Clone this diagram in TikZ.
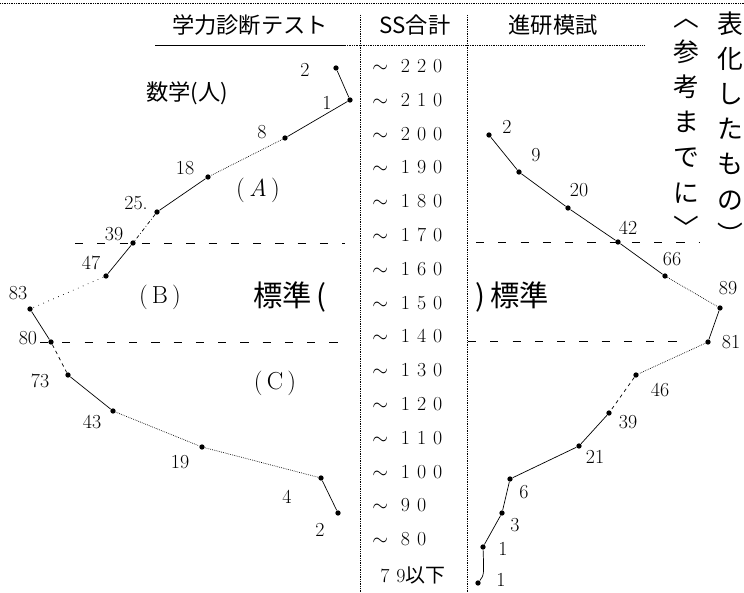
\documentclass[tikz,border=0pt]{standalone}
\usepackage{fontspec}
\newfontfamily\jp{Noto Sans CJK JP}
\newfontfamily\digs[LetterSpace=35]{Latin Modern Roman}

\begin{document}
\begin{tikzpicture}[x = 0.03cm, y = -0.03cm, line width = 0.6pt,
	dot/.style = {circle, fill = black, inner sep = 0pt, minimum size = 4.5pt},
	num/.style = {font = \fontsize{17}{17}\selectfont},
	sslabel/.style = {font = \digs\fontsize{17}{17}\selectfont, anchor = west},
	jtxt/.style = {font = \jp\fontsize{19}{19}\selectfont},
	jbig/.style = {font = \jp\fontsize{25}{25}\selectfont},
	region/.style = {font = \fontsize{21}{21}\selectfont},
	vert/.style = {font = \jp\fontsize{22}{30}\selectfont, align = center, inner sep = 0pt},
	rule/.style = {dash pattern = on 7pt off 12pt},
	frame/.style = {densely dotted, line width = 0.5pt},
	faint/.style = {densely dotted},
	loose/.style = {loosely dotted}]

\useasboundingbox (0, 0) rectangle (744, 593);

% Frame and column rules

\draw [frame] (0, 3) -- (744, 3);
\draw (155, 45) -- (345, 45);
\draw [frame] (345, 45) -- (645, 45);
\draw [frame] (360, 15) -- (360, 593);
\draw [frame] (467, 15) -- (467, 593);

% Headers

\node [jtxt] (head test) at (250, 25) {学力診断テスト};
\node [jtxt] (head ss) at (415, 25) {SS合計};
\node [jtxt] (head mock) at (553, 25) {進研模試};

% SS scale

\foreach \v [count = \i from 0] in {220, 210, 200, 190, 180, 170, 160, 150, 140, 130, 120, 110, 100, 90, 80}
	\node [sslabel] (ss\v) at (368, {66 + 33.8 * \i}) {$\sim$\ \v};
\node [sslabel] (ss79) at (376, 575) {79{\jp 以下}};

% Zone boundaries

\draw [rule] (75, 243) -- (345, 243);
\draw [rule] (476, 242) -- (700, 242);
\draw [rule] (40, 342) -- (345, 342);
\draw [rule] (468, 341) -- (680, 341);

% Zone labels

\node [jtxt] (subject) at (187, 93) {数学(人)};
\node [region] (zone a) at (258, 190) {(\,\textit{A}\,)};
\node [region] (zone b) at (160, 297) {(\,B\,)};
\node [region] (zone c) at (275, 383) {(\,C\,)};
\node [jbig] (std left) at (290, 297) {標準\,(};
\node [jbig] (std right) at (512, 297) {)\,標準};

% Side note

\node [vert] (note a) at (730, 128) {表\\化\\し\\た\\も\\の\\︶};
\node [vert] (note b) at (686, 128) {︿\\参\\考\\ま\\で\\に\\﹀};

% Left distribution

\foreach \n/\x/\y/\lx/\ly/\t in {1/336/68/305/70/2, 2/350/100/327/103/1, 3/285/138/262/132/8,
	4/208/177/185/168/18, 5/157/212/136/203/25., 6/133/243/114/234/39, 7/106/276/91/263/47,
	8/30/309/18/293/83, 9/51/342/28/338/80, 10/68/375/40/381/73, 11/113/411/92/422/43,
	12/202/447/180/462/19, 13/321/478/287/497/4, 14/338/513/320/530/2} {
	\node [dot] (l\n) at (\x, \y) {};
	\node [num] (lt\n) at (\lx, \ly) {\t};
}

\draw (l1) -- (l2);
\draw (l2) -- (l3);
\draw [faint] (l3) -- (l4);
\draw (l4) -- (l5);
\draw [dash dot] (l5) -- (l6);
\draw (l6) -- (l7);
\draw [loose] (l7) -- (l8);
\draw (l8) -- (l9);
\draw [dashed] (l9) -- (l10);
\draw (l10) -- (l11);
\draw [faint] (l11) -- (l12);
\draw [faint] (l12) -- (l13);
\draw (l13) -- (l14);

% Right distribution

\foreach \n/\x/\y/\lx/\ly/\t in {1/489/135/507/127/2, 2/519/172/536/155/9, 3/568/208/579/190/20,
	4/618/242/628/228/42, 5/665/276/672/259/66, 6/720/308/728/288/89, 7/708/342/731/342/81,
	8/636/375/660/390/46, 9/609/413/628/422/39, 10/579/446/595/457/21, 11/510/479/524/492/6,
	12/502/513/515/525/3, 13/483/547/503/549/1, 14/478/583/501/580/1} {
	\node [dot] (r\n) at (\x, \y) {};
	\node [num] (rt\n) at (\lx, \ly) {\t};
}

\draw (r1) -- (r2);
\draw (r2) -- (r3);
\draw (r3) -- (r4);
\draw (r4) -- (r5);
\draw [faint] (r5) -- (r6);
\draw (r6) -- (r7);
\draw [faint] (r7) -- (r8);
\draw [dashed] (r8) -- (r9);
\draw (r9) -- (r10);
\draw (r10) -- (r11);
\draw (r11) -- (r12);
\draw (r12) -- (r13);
\draw (r13) .. controls (484, 575) .. (r14);

\end{tikzpicture}
\end{document}
